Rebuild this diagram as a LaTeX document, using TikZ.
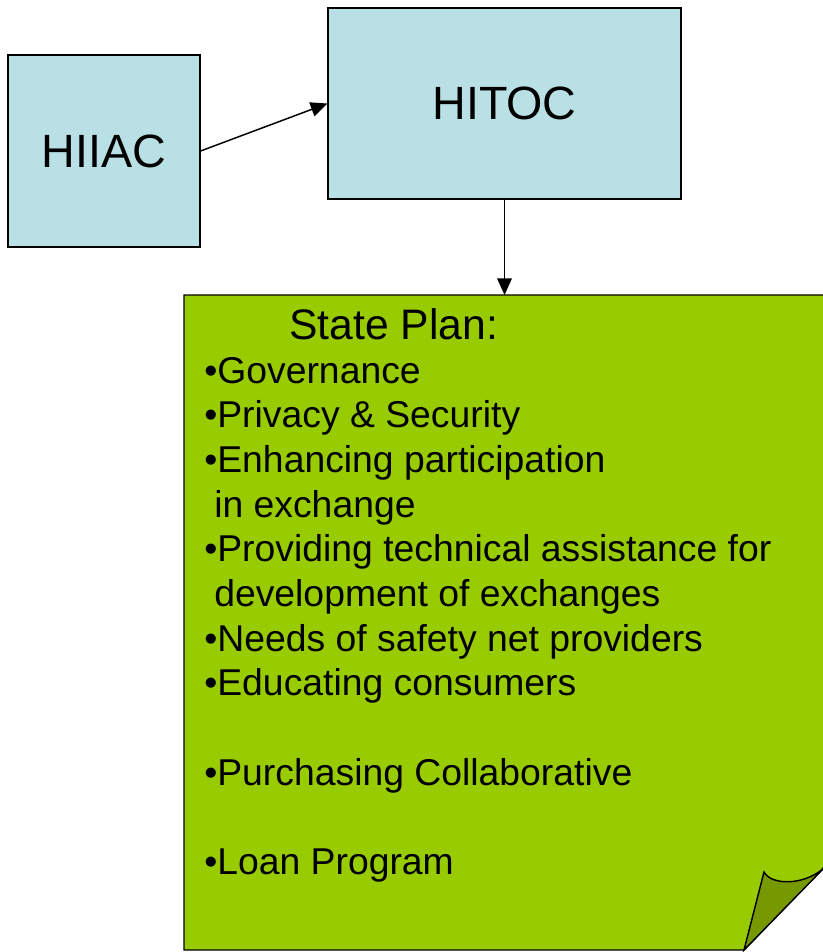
\documentclass[tikz,border=0pt]{standalone}
\usepackage{fontspec}
\setmainfont{Liberation Sans}
\usetikzlibrary{arrows.meta}
\definecolor{boxblue}{RGB}{185,224,228}
\definecolor{plangreen}{RGB}{153,204,0}
\definecolor{folddark}{RGB}{119,153,0}

\begin{document}
\begin{tikzpicture}[x=0.75pt, y=-0.75pt,
    bluebox/.style={draw, line width=0.9pt, fill=boxblue, inner sep=0pt,
        font=\fontsize{35}{42}\selectfont},
    link/.style={line width=1.1pt, -{Triangle[length=12.5pt, width=11pt]}},
    planline/.style={anchor=base west, inner sep=0pt, font=\fontsize{28}{33}\selectfont}]

                \useasboundingbox (0,0) rectangle (823,952);

                % the two councils
                \node[bluebox, minimum width=144pt, minimum height=144pt] (hiiac) at (104,151) {HIIAC};
                \node[bluebox, minimum width=264.75pt, minimum height=143.25pt] (hitoc) at (504.5,103.5) {HITOC};
                \draw[link] (hiiac.east) -- (hitoc.west);

                % the state plan sheet with its turned corner
                \filldraw[fill=plangreen, line width=1.1pt] (184,295) -- (830,295) -- (830,861) -- (744,950) -- (184,950) -- cycle;
                \filldraw[fill=folddark, line width=1.1pt] (744,950) -- (764,872) .. controls (771,885) and (802,886) .. (823,869) -- cycle;
                \coordinate (plantop) at (hitoc.south |- 0,295);
                \draw[link] (hitoc.south) -- (plantop);

                \node[planline, font=\fontsize{32}{38}\selectfont] (title) at (289,339) {State Plan:};
                \foreach \dx/\t [count=\i from 0] in {0/{•Governance}, 0/{•Privacy \& Security},
                        0/{•Enhancing participation}, 10/{in exchange},
                        0/{•Providing technical assistance for}, 10/{development of exchanges},
                        0/{•Needs of safety net providers}, 0/{•Educating consumers}, 0/{},
                        0/{•Purchasing Collaborative}, 0/{}, 0/{•Loan Program}}
                    \node[planline] (item\i) at (204+\dx,383+44.7*\i) {\t};
            \end{tikzpicture}
\end{document}
